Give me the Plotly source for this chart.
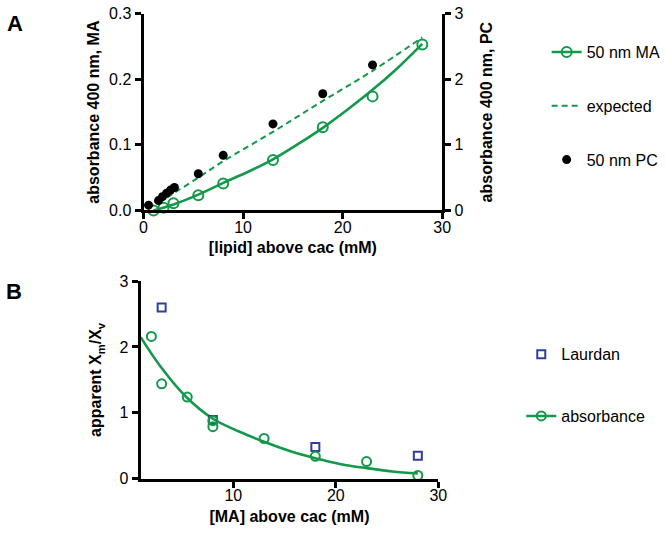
import plotly.graph_objects as go

W, H = 666, 539
GREEN = "#12994a"
BLUE = "#2f3f9c"
FONT = "Liberation Sans, Arial, sans-serif"

# ---- Panel A data ----
ma_x = [1, 2, 3, 5.5, 8, 13, 18, 23, 28]
ma_y = [0.0, 0.004, 0.011, 0.023, 0.041, 0.077, 0.127, 0.174, 0.253]
ma_fit_x = [1, 3, 5.5, 8, 10.5, 13, 15.5, 18, 20.5, 23, 25.5, 28]
ma_fit_y = [0.0, 0.009, 0.024, 0.042, 0.059, 0.078, 0.101, 0.126, 0.154, 0.184, 0.217, 0.254]
exp_x = [1.5, 3, 5.5, 8, 13, 18, 23, 28]
exp_y = [0.012, 0.026, 0.050, 0.075, 0.120, 0.167, 0.213, 0.264]
pc_x = [0.5, 1.5, 1.9, 2.3, 2.7, 3.1, 5.5, 8, 13, 18, 23]
pc_y = [0.08, 0.15, 0.21, 0.26, 0.31, 0.35, 0.56, 0.84, 1.32, 1.78, 2.22]

# ---- Panel B data ----
laurdan_x = [3, 8, 18, 28]
laurdan_y = [2.6, 0.89, 0.48, 0.35]
abs_x = [2, 3, 5.5, 8, 8, 13, 18, 23, 28]
abs_y = [2.16, 1.44, 1.24, 0.88, 0.79, 0.61, 0.34, 0.26, 0.05]
abs_fit_x = [0.95, 3, 5.4, 8, 10.5, 13, 15.5, 18, 20.5, 23, 25.5, 28]
abs_fit_y = [2.15, 1.68, 1.24, 0.91, 0.72, 0.56, 0.42, 0.31, 0.22, 0.16, 0.11, 0.08]

fig = go.Figure()

# Panel A
fig.add_trace(go.Scatter(x=ma_fit_x, y=ma_fit_y, mode="lines", line=dict(color=GREEN, width=2.6, shape="spline"),
                         showlegend=False, xaxis="x", yaxis="y"))
fig.add_trace(go.Scatter(x=exp_x, y=exp_y, mode="lines", name="expected", legendgroup="e",
                         line=dict(color=GREEN, width=2, dash="6px,4px", shape="spline"),
                         xaxis="x", yaxis="y", legend="legend", legendrank=2))
fig.add_trace(go.Scatter(x=pc_x, y=pc_y, mode="markers", name="50 nm PC", legendgroup="p",
                         marker=dict(color="black", size=9), cliponaxis=False,
                         xaxis="x", yaxis="y2", legend="legend", legendrank=3))
fig.add_trace(go.Scatter(x=ma_x, y=ma_y, mode="markers", showlegend=False,
                         marker=dict(symbol="circle-open", color=GREEN, size=10, line=dict(width=2)),
                         cliponaxis=False, xaxis="x", yaxis="y"))
fig.add_trace(go.Scatter(x=[None], y=[None], mode="lines+markers", name="50 nm MA", legendgroup="m",
                         line=dict(color=GREEN, width=2.6),
                         marker=dict(symbol="circle-open", color=GREEN, size=10, line=dict(width=2)),
                         xaxis="x", yaxis="y", legend="legend", legendrank=1))

# Panel B
fig.add_trace(go.Scatter(x=abs_fit_x, y=abs_fit_y, mode="lines", line=dict(color=GREEN, width=2.6, shape="spline"),
                         showlegend=False, xaxis="x2", yaxis="y3"))
fig.add_trace(go.Scatter(x=laurdan_x, y=laurdan_y, mode="markers", name="Laurdan", legendgroup="l",
                         marker=dict(symbol="square-open", color=BLUE, size=8, line=dict(width=2)),
                         cliponaxis=False, xaxis="x2", yaxis="y3", legend="legend2", legendrank=1))
fig.add_trace(go.Scatter(x=abs_x, y=abs_y, mode="markers", showlegend=False,
                         marker=dict(symbol="circle-open", color=GREEN, size=9, line=dict(width=2)),
                         cliponaxis=False, xaxis="x2", yaxis="y3"))
fig.add_trace(go.Scatter(x=[None], y=[None], mode="lines+markers", name="absorbance", legendgroup="a",
                         line=dict(color=GREEN, width=2.6),
                         marker=dict(symbol="circle-open", color=GREEN, size=9, line=dict(width=2)),
                         xaxis="x2", yaxis="y3", legend="legend2", legendrank=2))

axis_common = dict(showline=True, linecolor="black", linewidth=3, ticks="outside", ticklen=6,
                   tickwidth=2.5, tickcolor="black", showgrid=False, zeroline=False,
                   tickfont=dict(size=16, color="black", family=FONT), mirror=False)
title_font = dict(size=16, color="black", family=FONT, weight="bold")

fig.update_layout(
    width=W, height=H, margin=dict(l=0, r=0, t=0, b=0),
    paper_bgcolor="white", plot_bgcolor="white",
    font=dict(family=FONT, size=16, color="black"),
    xaxis=dict(domain=[143/W, 449/W], range=[0, 30], tickvals=[0, 10, 20, 30], anchor="y",
               ticklabelstandoff=-6,
               title=dict(text="[lipid] above cac (mM)", font=title_font, standoff=8), **axis_common),
    yaxis=dict(domain=[1-209/H, 1-6/H], range=[0, 0.3], tickvals=[0, 0.1, 0.2, 0.3], tickformat=".1f",
               anchor="x", title=dict(text="absorbance 400 nm, MA", font=title_font, standoff=6), **axis_common),
    yaxis2=dict(range=[0, 3], tickvals=[0, 1, 2, 3], overlaying="y", side="right", anchor="x",
                title=dict(text="absorbance 400 nm, PC", font=title_font, standoff=19), **axis_common),
    xaxis2=dict(domain=[140/W, 445/W], range=[0.95, 30], tickvals=[10, 20, 30], anchor="y3",
                ticklabelstandoff=-6,
                title=dict(text="[MA] above cac (mM)", font=title_font, standoff=8), **axis_common),
    yaxis3=dict(domain=[1-486/H, 1-282/H], range=[0, 3], tickvals=[0, 1, 2, 3], anchor="x2",
                title=dict(text="apparent X<sub>m</sub>/X<sub>v</sub>", font=title_font, standoff=14), **axis_common),
    legend=dict(x=556/W, xanchor="left", y=1-28/H, yanchor="top", bgcolor="rgba(0,0,0,0)",
                font=dict(size=16, family=FONT), tracegroupgap=30, traceorder="grouped"),
    legend2=dict(x=530/W, xanchor="left", y=1-340/H, yanchor="top", bgcolor="rgba(0,0,0,0)",
                 font=dict(size=16, family=FONT), tracegroupgap=38, traceorder="grouped"),
    annotations=[
        dict(text="<b>A</b>", x=11/W, y=1-15.5/H, xref="paper", yref="paper", showarrow=False,
             font=dict(size=22, family=FONT, color="black"), xanchor="center", yanchor="middle"),
        dict(text="<b>B</b>", x=10.5/W, y=1-292.5/H, xref="paper", yref="paper", showarrow=False,
             font=dict(size=22, family=FONT, color="black"), xanchor="center", yanchor="middle"),
    ],
)

fig.write_html("out.html", config={"displayModeBar": False},
               post_script="document.body.style.margin='0';document.body.style.overflow='hidden';")
